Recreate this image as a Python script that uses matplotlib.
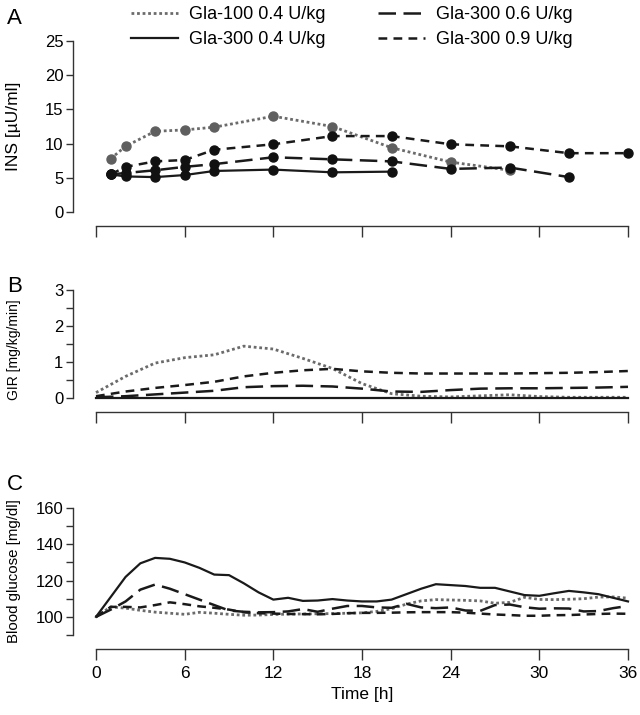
import numpy as np
import matplotlib.pyplot as plt
from matplotlib.ticker import MultipleLocator, FuncFormatter

plt.rcParams['font.family'] = ['Liberation Sans', 'DejaVu Sans']
plt.rcParams['font.size'] = 12

# --- A: insulin (INS) ---
t_ins_100 = [1, 2, 4, 6, 8, 12, 16, 20, 24, 28]
ins_100 = [7.8, 9.6, 11.8, 12.0, 12.4, 14.0, 12.5, 9.4, 7.3, 6.1]
t_ins_04 = [1, 2, 4, 6, 8, 12, 16, 20]
ins_04 = [5.5, 5.2, 5.1, 5.4, 6.0, 6.2, 5.8, 5.9]
t_ins_06 = [1, 2, 4, 6, 8, 12, 16, 20, 24, 28, 32]
ins_06 = [5.5, 5.7, 6.1, 6.6, 7.0, 8.0, 7.7, 7.4, 6.3, 6.5, 5.1]
t_ins_09 = [1, 2, 4, 6, 8, 12, 16, 20, 24, 28, 32, 36]
ins_09 = [5.5, 6.6, 7.4, 7.6, 9.1, 9.9, 11.1, 11.1, 9.9, 9.6, 8.6, 8.6]

# --- B: glucose infusion rate (GIR) ---
t_gir = [0, 2, 4, 6, 8, 10, 12, 14, 16, 18, 20, 22, 24, 26, 28, 30, 32, 34, 36]
gir_100 = [0.15, 0.6, 0.97, 1.12, 1.2, 1.44, 1.36, 1.1, 0.82, 0.4, 0.12, 0.05,
           0.03, 0.06, 0.09, 0.04, 0.02, 0.02, 0.02]
gir_04 = [0.01] * 19
gir_06 = [0.02, 0.05, 0.1, 0.15, 0.2, 0.3, 0.33, 0.34, 0.32, 0.26, 0.18, 0.17,
          0.22, 0.26, 0.27, 0.27, 0.28, 0.29, 0.31]
gir_09 = [0.05, 0.18, 0.28, 0.36, 0.45, 0.6, 0.7, 0.77, 0.81, 0.74, 0.7, 0.68,
          0.68, 0.68, 0.68, 0.69, 0.7, 0.72, 0.75]

# --- C: blood glucose ---
t_bg = list(range(0, 37))
bg_100 = [100, 105.5, 104.8, 103.6, 102.6, 102, 101.4, 102.5, 102, 101.4, 100.9,
          101, 101.3, 101.5, 101.6, 101.7, 101.8, 102, 102.2, 103, 104.5, 107,
          108.8, 109.5, 109.3, 109.1, 108.8, 107.5, 108, 110.8, 109.6, 109.5,
          109.7, 110, 110.9, 111, 110.3]
bg_04 = [100, 111, 122, 129.5, 132.5, 132, 130, 127, 123.3, 123, 118.5, 113.5,
         109.5, 110.5, 108.8, 109, 109.8, 109, 108.5, 108.5, 109.5, 112.5, 115.5,
         118, 117.5, 117, 116, 116, 114, 112, 111.6, 113, 114.3, 113.5, 112.5,
         110.5, 108.5]
bg_06 = [100, 104, 108.5, 115, 117.8, 115.5, 112.5, 109.5, 106.5, 103.5, 102.8,
         102.5, 102.6, 103, 104.3, 102.8, 104.5, 106, 106, 105.2, 105, 107.2,
         105.2, 104.8, 105.2, 103.5, 103.3, 106.5, 106.8, 105.3, 104.5, 104.7,
         104.6, 103, 103.2, 104.8, 106]
bg_09 = [100, 105.5, 105.5, 105.2, 106.5, 108, 107, 105.8, 105, 104, 102.5, 102,
         101.8, 101.6, 101.5, 101.4, 101.6, 102, 102.2, 102.2, 102.3, 102.5,
         102.6, 102.6, 102.6, 102.3, 101.8, 101.3, 101, 100.6, 100.6, 100.9, 101,
         101.3, 101.6, 101.8, 101.7]

labels = ['Gla-100 0.4 U/kg', 'Gla-300 0.4 U/kg', 'Gla-300 0.6 U/kg', 'Gla-300 0.9 U/kg']
styles = [dict(color='#6b6b6b', ls=(0, (1, 1)), lw=2.0),
          dict(color='#1a1a1a', ls='-', lw=1.6),
          dict(color='#1a1a1a', ls=(0, (7, 3)), lw=1.8),
          dict(color='#1a1a1a', ls=(0, (3.5, 2.5)), lw=1.8)]
mcol = ['#5f5f5f', '#111111', '#111111', '#111111']

W, H = 640, 715
fig = plt.figure(figsize=(W / 100, H / 100), dpi=100)


def make_ax(top, bottom):
    ax = fig.add_axes([96 / W, 1 - bottom / H, 532 / W, (bottom - top) / H])
    for s in ['top', 'right']:
        ax.spines[s].set_visible(False)
    ax.spines['left'].set_position(('outward', 16.5))
    ax.spines['bottom'].set_position(('outward', 10))
    for s in ['left', 'bottom']:
        ax.spines[s].set_color('#333333')
        ax.spines[s].set_linewidth(1.0)
    ax.tick_params(axis='y', length=5, width=1.0, color='#333333', pad=2, labelsize=12)
    ax.tick_params(axis='x', length=8, width=1.0, color='#333333', pad=4, labelsize=12.5)
    ax.set_xlim(0, 36)
    ax.xaxis.set_major_locator(MultipleLocator(6))
    return ax


# A
ax1 = make_ax(41, 212)
ins_t = [t_ins_100, t_ins_04, t_ins_06, t_ins_09]
ins_v = [ins_100, ins_04, ins_06, ins_09]
handles = []
for k in range(4):
    h, = ax1.plot(ins_t[k], ins_v[k], label=labels[k], **styles[k])
    handles.append(h)
    ax1.plot(ins_t[k], ins_v[k], 'o', ms=6.5, color=mcol[k], clip_on=False, zorder=3)
ax1.set_ylim(0, 25)
ax1.yaxis.set_major_locator(MultipleLocator(5))
ax1.set_xticklabels([])
ax1.set_ylabel('INS [µU/ml]', fontsize=12.5)
ax1.yaxis.set_label_coords(-0.141, 0.5)

# B
ax2 = make_ax(290, 398)
gir = [gir_100, gir_04, gir_06, gir_09]
for k in range(4):
    ax2.plot(t_gir, gir[k], clip_on=False, **styles[k])
ax2.set_ylim(0, 3)
ax2.yaxis.set_major_locator(MultipleLocator(0.5))
ax2.yaxis.set_major_formatter(FuncFormatter(lambda v, p: f'{v:.0f}' if v % 1 == 0 else ''))
ax2.set_xticklabels([])
ax2.set_ylabel('GIR [mg/kg/min]', fontsize=10)
ax2.yaxis.set_label_coords(-0.141, 0.45)

# C
ax3 = make_ax(508, 635)
bg = [bg_100, bg_04, bg_06, bg_09]
for k in range(4):
    ax3.plot(t_bg, bg[k], clip_on=False, **styles[k])
ax3.set_ylim(90, 160)
ax3.yaxis.set_major_locator(MultipleLocator(10))
ax3.yaxis.set_major_formatter(FuncFormatter(lambda v, p: f'{v:.0f}' if v % 20 == 0 else ''))
ax3.set_ylabel('Blood glucose [mg/dl]', fontsize=10.8)
ax3.yaxis.set_label_coords(-0.141, 0.5)
ax3.set_xlabel('Time [h]', labelpad=5, fontsize=12.5)

fig.text(7 / W, 1 - 18 / H, 'A', fontsize=16, va='center', ha='left')
fig.text(7 / W, 1 - 287 / H, 'B', fontsize=16, va='center', ha='left')
fig.text(7 / W, 1 - 485 / H, 'C', fontsize=16, va='center', ha='left')

fig.legend(handles=handles, labels=labels, ncol=2, loc='center',
           bbox_to_anchor=(352 / W, 1 - 27 / H), frameon=False,
           handlelength=2.6, columnspacing=2.9, labelspacing=0.45,
           handletextpad=0.6, fontsize=13)

fig.savefig('out.png', dpi=100)
